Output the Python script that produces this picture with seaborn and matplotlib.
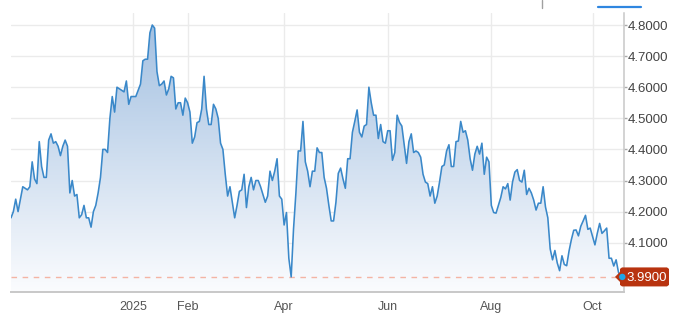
import numpy as np
import pandas as pd
import matplotlib
matplotlib.use("Agg")
import matplotlib.pyplot as plt
import matplotlib.transforms as mtransforms
from matplotlib.colors import LinearSegmentedColormap
from matplotlib.patches import Polygon, Circle
import seaborn as sns

# ---------------- data (daily yield, weekdays) ----------------
start_date = "2024-10-21"
end_date = "2025-10-17"
oct24 = [4.18, 4.20, 4.24, 4.20, 4.24, 4.28, 4.275, 4.27, 4.28]
nov24 = [4.36, 4.305, 4.29, 4.425, 4.345, 4.31, 4.31, 4.43, 4.45, 4.42, 4.425,
         4.41, 4.38, 4.41, 4.43, 4.41, 4.26, 4.30, 4.25, 4.255, 4.18]
dec24 = [4.19, 4.22, 4.18, 4.18, 4.15, 4.20, 4.22, 4.26, 4.31, 4.40, 4.40,
         4.39, 4.50, 4.57, 4.52, 4.60, 4.595, 4.59, 4.585, 4.62, 4.545, 4.57]
jan25 = [4.57, 4.57, 4.59, 4.61, 4.685, 4.69, 4.69, 4.775, 4.80, 4.79, 4.65,
         4.605, 4.61, 4.62, 4.575, 4.595, 4.635, 4.63, 4.53, 4.55, 4.55, 4.51, 4.565]
feb25 = [4.55, 4.52, 4.42, 4.44, 4.486, 4.49, 4.53, 4.635, 4.53, 4.48, 4.48,
         4.545, 4.53, 4.50, 4.42, 4.40, 4.32, 4.25, 4.28, 4.23]
mar25 = [4.18, 4.22, 4.265, 4.27, 4.32, 4.213, 4.28, 4.31, 4.27, 4.30, 4.30,
         4.28, 4.255, 4.23, 4.25, 4.33, 4.30, 4.33, 4.37, 4.25, 4.24]
apr25 = [4.157, 4.197, 4.05, 3.99, 4.145, 4.26, 4.395, 4.395, 4.49, 4.36, 4.33,
         4.28, 4.33, 4.33, 4.405, 4.39, 4.39, 4.31, 4.275, 4.22, 4.17, 4.17]
may25 = [4.23, 4.323, 4.34, 4.305, 4.275, 4.37, 4.37, 4.455, 4.49, 4.527, 4.455,
         4.44, 4.475, 4.48, 4.60, 4.55, 4.51, 4.51, 4.435, 4.48, 4.425, 4.42]
jun25 = [4.46, 4.46, 4.365, 4.39, 4.51, 4.487, 4.475, 4.415, 4.355, 4.425, 4.45,
         4.39, 4.395, 4.39, 4.375, 4.32, 4.295, 4.29, 4.25, 4.28, 4.227]
jul25 = [4.25, 4.295, 4.345, 4.35, 4.395, 4.415, 4.345, 4.345, 4.425, 4.427, 4.49,
         4.455, 4.46, 4.43, 4.37, 4.333, 4.385, 4.41, 4.385, 4.42, 4.32, 4.375, 4.36]
aug25 = [4.22, 4.197, 4.195, 4.22, 4.245, 4.28, 4.273, 4.29, 4.237, 4.295, 4.327,
         4.335, 4.30, 4.295, 4.333, 4.255, 4.275, 4.26, 4.237, 4.205, 4.227]
sep25 = [4.227, 4.28, 4.215, 4.18, 4.08, 4.045, 4.075, 4.035, 4.01, 4.058, 4.03,
         4.026, 4.073, 4.11, 4.14, 4.141, 4.122, 4.153, 4.17, 4.188, 4.143, 4.147]
oct25 = [4.12, 4.093, 4.13, 4.162, 4.13, 4.138, 4.147, 4.05, 4.05, 4.025, 4.045,
         4.005, 3.99]

tick_dates = ["2025-01-01", "2025-02-03", "2025-04-01", "2025-06-02", "2025-08-01", "2025-10-01"]
tick_labels = ["2025", "Feb", "Apr", "Jun", "Aug", "Oct"]
y_ticks = [4.1, 4.2, 4.3, 4.4, 4.5, 4.6, 4.7, 4.8]
last_label = "3.9900"

values = np.array(oct24 + nov24 + dec24 + jan25 + feb25 + mar25 + apr25 +
                  may25 + jun25 + jul25 + aug25 + sep25 + oct25)
dates = pd.bdate_range(start_date, end_date)
assert len(dates) == len(values), (len(dates), len(values))

ref = np.datetime64("2025-01-01")
def wd(d):
    return int(np.busday_count(ref, np.datetime64(pd.Timestamp(d).date())))

xidx = np.array([wd(d) for d in dates])
df = pd.DataFrame({"x": xidx, "y": values})

# ---------------- style ----------------
sns.set_style("white")
plt.rcParams["font.family"] = ["Liberation Sans", "DejaVu Sans"]

W, H = 680, 318
fig = plt.figure(figsize=(W / 100, H / 100), dpi=100)
ax_l, ax_r, ax_t, ax_b = 11, 624, 13, 292
ax = fig.add_axes([ax_l / W, (H - ax_b) / H, (ax_r - ax_l) / W, (ax_b - ax_t) / H])

ymin, ymax = 3.9415, 4.8386
xmin, xmax = -52.0, 208.35
ax.set_xlim(xmin, xmax)
ax.set_ylim(ymin, ymax)

# gradient area fill
poly = ax.fill_between(df["x"], df["y"], ymin, facecolor="none", edgecolor="none")
cmap = LinearSegmentedColormap.from_list("g", ["#fbfcfe", "#a0bee0"])
grad = np.linspace(0, 1, 256).reshape(-1, 1)
img = ax.imshow(grad, extent=[xmin, xmax, ymin, ymax], aspect="auto",
                origin="lower", cmap=cmap, zorder=1)
img.set_clip_path(poly.get_paths()[0], transform=ax.transData)

sns.lineplot(data=df, x="x", y="y", ax=ax, color="#3a88c9", linewidth=1.15,
             zorder=3)

# dashed last-value line
last_x, last_y = df["x"].iloc[-1], df["y"].iloc[-1]
ax.axhline(last_y, color="#f4b4a4", lw=1.0, ls=(0, (4, 4)), zorder=2)

# grid / ticks
xt = [wd(d) for d in tick_dates]
ax.set_xticks(xt)
ax.set_xticklabels(tick_labels)
ax.set_yticks(y_ticks)
ax.set_yticklabels([f"{v:.4f}" for v in y_ticks])
ax.yaxis.tick_right()
ax.grid(True, color="#ebebeb", lw=1.0, zorder=0)
ax.set_axisbelow(True)
ax.set_xlabel("")
ax.set_ylabel("")

for s in ["top", "left"]:
    ax.spines[s].set_visible(False)
ax.spines["bottom"].set_color("#c8c8c8")
ax.spines["bottom"].set_linewidth(1.4)
ax.spines["right"].set_color("#c8c8c8")
ax.spines["right"].set_linewidth(1.1)

ax.tick_params(axis="x", length=5.5, width=1, color="#e2e2e2",
               labelsize=9, labelcolor="#555555", pad=1.0)
ax.tick_params(axis="y", which="both", left=False, right=True, length=2.5,
               width=1, color="#aaaaaa", labelsize=9.5, labelcolor="#444444",
               pad=0.4)

# last value tag
fig.canvas.draw()
base = mtransforms.blended_transform_factory(ax.transAxes, ax.transData)
axp, ayp = base.transform((1.0, last_y))
verts = [(-9, 0), (-4, 5), (-4, 8), (-2, 9.5), (43, 9.5), (45, 8), (45, -8),
         (43, -9.5), (-2, -9.5), (-4, -8), (-4, -5)]
verts = [(axp + dx, ayp + dy) for dx, dy in verts]
tag = Polygon(verts, closed=True, facecolor="#b8330f", edgecolor="none",
              transform=mtransforms.IdentityTransform(), zorder=5)
fig.add_artist(tag)
fig.text((axp + 2.5) / W, ayp / H, last_label, color="white", fontsize=9.5,
         ha="left", va="center_baseline", zorder=6)
px, py = ax.transData.transform((last_x, last_y))
dot = Circle((px + 1.5, py), 3.2, facecolor="#1ea6e6", edgecolor="none",
             transform=mtransforms.IdentityTransform(), zorder=7)
fig.add_artist(dot)

# top UI remnants
fig.add_artist(plt.Line2D([541.5 / W, 541.5 / W], [1, (H - 8) / H],
                          color="#a0a0a0", lw=1))
fig.add_artist(plt.Line2D([598 / W, 641 / W], [(H - 7) / H, (H - 7) / H],
                          color="#2f86e0", lw=1.6))

fig.savefig("out.png", dpi=100)
